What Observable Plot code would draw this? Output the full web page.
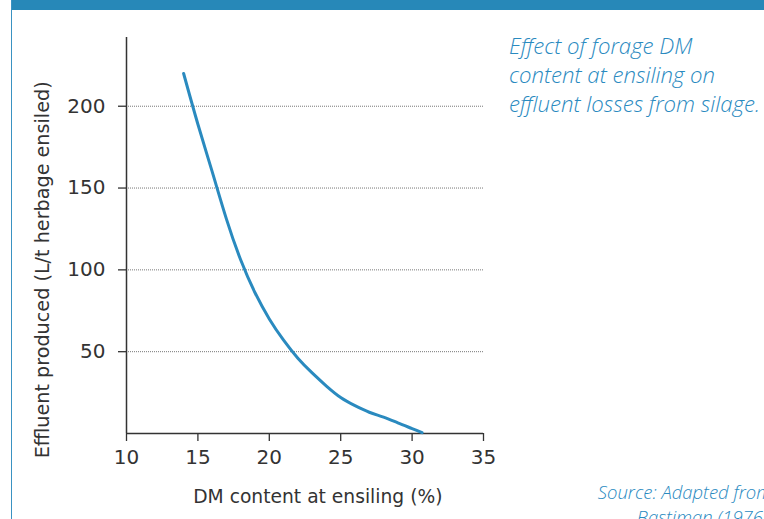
<!DOCTYPE html>
<html>
<head>
<meta charset="utf-8">
<script src="https://cdn.jsdelivr.net/npm/d3@7"></script>
<script src="https://cdn.jsdelivr.net/npm/@observablehq/plot@0.6"></script>
<style>
  html, body { margin: 0; padding: 0; background: #fff; }
  body { width: 764px; height: 519px; overflow: hidden; position: relative; }
  #bar { position: absolute; left: 11px; top: 0; width: 760px; height: 10px; background: #2788b8; }
  #frame { position: absolute; left: 11px; top: 0; width: 1px; height: 519px; background: #3a92c2; }
  #chart { position: absolute; left: 0; top: 0; }
  #caption { position: absolute; left: 509px; top: 31px; font-family: "Open Sans", Lato, sans-serif; font-style: italic; font-weight: 300; font-size: 22.2px; line-height: 29px; color: #2a8abf; white-space: nowrap; }
  #source { position: absolute; right: -8px; top: 479px; font-family: "Open Sans", Lato, sans-serif; font-style: italic; font-weight: 300; font-size: 18.5px; line-height: 25px; color: #2a8abf; white-space: nowrap; text-align: right; }
</style>
</head>
<body>
<div id="bar"></div>
<div id="frame"></div>
<div id="chart"></div>
<div id="caption">Effect of forage DM<br>content at ensiling on<br>effluent losses from silage.</div>
<div id="source">Source: Adapted from<br>Bastiman (1976).</div>
<script>
const dmContent = [14, 15, 16, 17, 18, 19, 20, 21, 22, 23, 24, 25, 26, 27, 28, 29, 30, 30.7];
const effluent  = [220, 189, 160, 131, 106, 86, 70, 57, 46, 37, 29, 22, 17, 13, 10, 6.5, 3, 0.5];
const xTicks = [10, 15, 20, 25, 30, 35];
const yTicks = [50, 100, 150, 200];
const xLabel = "DM content at ensiling (%)";
const yLabel = "Effluent produced (L/t herbage ensiled)";

const data = dmContent.map((d, i) => ({x: d, y: effluent[i]}));
const axisColor = "#333";
const font = "'DejaVu Sans', 'Liberation Sans', sans-serif";

const chart = Plot.plot({
  width: 500,
  height: 519,
  marginLeft: 126,
  marginRight: 17,
  marginTop: 37,
  marginBottom: 86,
  style: {fontFamily: font, color: axisColor, background: "transparent"},
  x: {domain: [10, 35]},
  y: {domain: [0, 242]},
  marks: [
    Plot.ruleY(yTicks, {x1: 10, x2: 35, stroke: "#777", strokeDasharray: "1,1", strokeWidth: 1}),
    Plot.axisX({ticks: xTicks, tickSize: 8, tickPadding: 8, stroke: axisColor, strokeWidth: 1.3, fill: axisColor, fontSize: 20, tickFormat: d => String(d), label: null}),
    Plot.axisY({ticks: yTicks, tickSize: 8, tickPadding: 13, stroke: axisColor, strokeWidth: 1.3, fill: axisColor, fontSize: 20, tickFormat: d => String(d), label: null}),
    Plot.text([xLabel], {x: 23.4, frameAnchor: "bottom", dy: 69, fontSize: 18.7, fill: axisColor, lineAnchor: "bottom"}),
    Plot.text([yLabel], {y: 100, frameAnchor: "left", dx: -84, rotate: -90, textAnchor: "middle", fontSize: 19.2, fill: axisColor}),
    Plot.ruleX([10], {stroke: axisColor, strokeWidth: 1.5}),
    Plot.ruleY([0], {stroke: axisColor, strokeWidth: 1.5}),
    Plot.line(data, {x: "x", y: "y", curve: "natural", stroke: "#2a8abf", strokeWidth: 3})
  ]
});
document.getElementById("chart").appendChild(chart);
</script>
</body>
</html>
